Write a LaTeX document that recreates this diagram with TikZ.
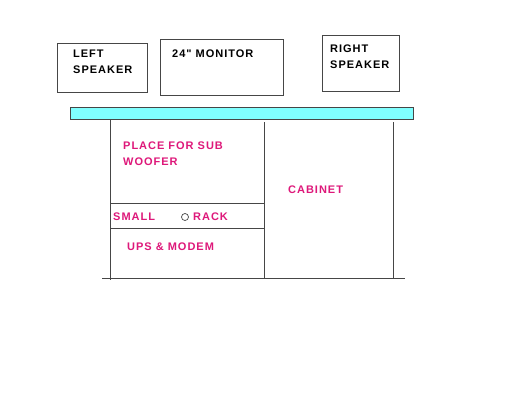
\documentclass[tikz,border=0pt]{standalone}
\usepackage{fontspec}
\setmainfont{Liberation Sans}
\newfontfamily\lblfont[LetterSpace=9]{Liberation Sans}
\usepackage{xcolor}
\definecolor{shelfcyan}{RGB}{128,255,255}
\definecolor{labelpink}{RGB}{222,24,122}
\definecolor{edgegray}{RGB}{70,70,70}

\tikzset{
  box/.style={draw=edgegray, line width=0.9pt, inner sep=0pt, anchor=north west},
  blacklbl/.style={font=\lblfont\bfseries\fontsize{11}{16}\selectfont, align=left, anchor=north west, inner sep=0pt},
  pinklbl/.style={blacklbl, text=labelpink},
  wall/.style={edgegray, line width=0.9pt}
}

\begin{document}
\begin{tikzpicture}[x=1pt, y=-1pt]
  \useasboundingbox[fill=white] (0,0) rectangle (528,400);

  % Top: speakers and monitor
  \node[box, minimum width=90pt, minimum height=49pt] (lspk) at (57,43) {};
  \node[blacklbl] (lspktxt) at (73,50) {LEFT\\SPEAKER};
  \node[box, minimum width=123pt, minimum height=56pt] (mon) at (160,39) {};
  \node[blacklbl] (montxt) at (172,50) {24" MONITOR};
  \node[box, minimum width=77pt, minimum height=56pt] (rspk) at (322,35) {};
  \node[blacklbl] (rspktxt) at (330,45) {RIGHT\\SPEAKER};

  % Table top
  \node[box, fill=shelfcyan, minimum width=343pt, minimum height=12pt] (top) at (70,107) {};

  % Cabinet frame
  \draw[wall] (110,119) -- (110,280);
  \draw[wall] (264,122) -- (264,279);
  \draw[wall] (393,122) -- (393,278);
  \draw[wall] (102,278) -- (405,278);
  \draw[wall] (110,203) -- (264,203);
  \draw[wall] (110,228) -- (264,228);
  \draw[edgegray, line width=0.7pt] (185,217) circle (3.5pt);

  % Labels
  \node[pinklbl] (sub) at (123,142) {PLACE FOR SUB\\WOOFER};
  \node[pinklbl] (cab) at (288,186) {CABINET};
  \node[pinklbl] (small) at (113,213) {SMALL};
  \node[pinklbl] (rack) at (193,213) {RACK};
  \node[pinklbl] (ups) at (127,243) {UPS \& MODEM};
\end{tikzpicture}
\end{document}
